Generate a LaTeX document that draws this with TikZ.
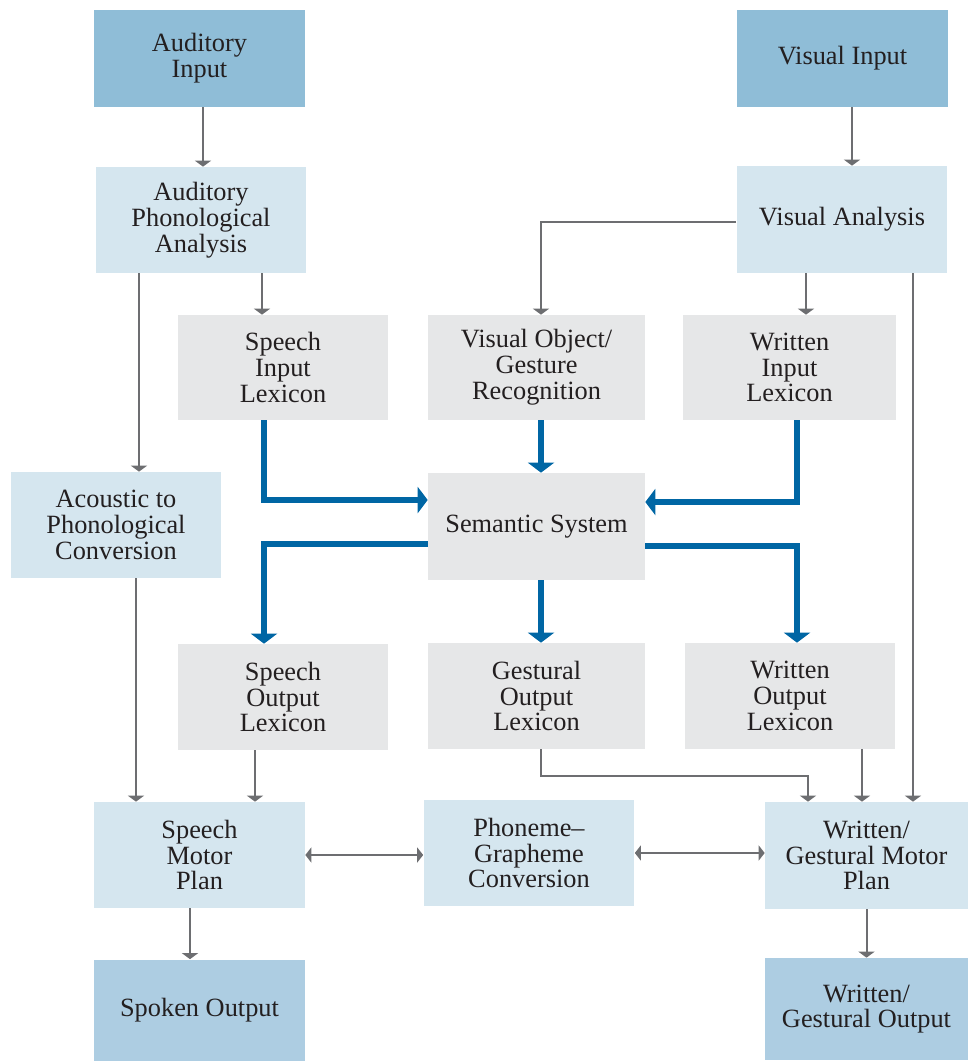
\documentclass[tikz,border=0pt]{standalone}
\usepackage{fontspec}
\setmainfont{Liberation Serif}
\usetikzlibrary{arrows.meta}
\definecolor{inblue}{HTML}{8FBDD7}
\definecolor{outblue}{HTML}{ADCDE2}
\definecolor{ltblue}{HTML}{D5E6EF}
\definecolor{ltgray}{HTML}{E6E7E8}
\definecolor{semblue}{HTML}{0066A4}
\definecolor{lngray}{HTML}{6D6E71}
\definecolor{txtgray}{HTML}{231F20}

\begin{document}
\begin{tikzpicture}[x=0.02cm,y=-0.02cm,
  box/.style={inner sep=0pt, minimum width=4.22cm, minimum height=2.12cm,
    align=center, text=txtgray, font=\fontsize{15}{14.7}\selectfont},
  inbox/.style={box, fill=inblue, minimum height=1.94cm},
  outbox/.style={box, fill=outblue, minimum height=2.02cm},
  ltbox/.style={box, fill=ltblue},
  gbox/.style={box, fill=ltgray, minimum height=2.1cm},
  garrow/.style={draw=lngray, line width=0.04cm, -{Triangle[width=0.32cm,length=0.12cm]}},
  gboth/.style={draw=lngray, line width=0.04cm,
    {Triangle[width=0.3cm,length=0.12cm]}-{Triangle[width=0.3cm,length=0.12cm]}},
  barrow/.style={draw=semblue, line width=0.12cm, -{Triangle[width=0.52cm,length=0.2cm]}}]
\useasboundingbox (0,0) rectangle (968,1061);
% inputs
\node[inbox] (audin) at (199.5,58.5) {Auditory\\Input};
\node[inbox] (visin) at (842.5,58.5) {Visual Input};
% analysis
\node[ltbox] (apa) at (201,220) {Auditory\\Phonological\\Analysis};
\node[ltbox, minimum height=2.14cm] (vana) at (842,219.5) {Visual Analysis};
% input lexicons
\node[gbox] (sil) at (283,367.5) {Speech\\Input\\Lexicon};
\node[gbox, minimum width=4.34cm] (vog) at (536.5,367.5) {Visual Object/\\Gesture\\Recognition};
\node[gbox, minimum width=4.26cm] (wil) at (789.5,367.5) {Written\\Input\\Lexicon};
\node[ltbox] (acph) at (116,525) {Acoustic to\\Phonological\\Conversion};
\node[gbox, minimum width=4.34cm, minimum height=2.14cm] (sem) at (536.5,526.5) {Semantic System};
% output lexicons
\node[gbox, minimum height=2.12cm] (sol) at (283,697) {Speech\\Output\\Lexicon};
\node[gbox, minimum width=4.34cm, minimum height=2.12cm] (gol) at (536.5,696) {Gestural\\Output\\Lexicon};
\node[gbox, minimum height=2.12cm] (wol) at (790,696) {Written\\Output\\Lexicon};
% motor plans
\node[ltbox] (smp) at (199.5,855) {Speech\\Motor\\Plan};
\node[ltbox] (pgc) at (529,853) {Phoneme–\\Grapheme\\Conversion};
\node[ltbox, minimum width=4.06cm, minimum height=2.14cm] (wgmp) at (866.5,855.5) {Written/\\Gestural Motor\\Plan};
% outputs
\node[outbox] (spout) at (199.5,1010) {Spoken Output};
\node[outbox, minimum width=4.06cm, minimum height=2.04cm] (wgout) at (866.5,1009) {Written/\\Gestural Output};

% gray connectors
\draw[garrow] ([xshift=0.07cm]audin.south) -- ([xshift=0.07cm]audin.south |- apa.north);
\draw[garrow] ([xshift=0.19cm]visin.south) -- ([xshift=0.19cm]visin.south |- vana.north);
\draw[garrow] ([xshift=1.22cm]apa.south) -- ([xshift=1.22cm]apa.south |- sil.north);
\draw[garrow] ([xshift=-1.24cm]apa.south) -- ([xshift=-1.24cm]apa.south |- acph.north);
\draw[garrow] ([yshift=-0.05cm]vana.west) -| ([xshift=0.09cm]vog.north);
\draw[garrow] ([xshift=0.33cm]wil.north |- vana.south) -- ([xshift=0.33cm]wil.north);
\draw[garrow] ([xshift=1.42cm]vana.south) -- ([xshift=1.42cm]vana.south |- wgmp.north);
\draw[garrow] ([xshift=0.4cm]acph.south) -- ([xshift=0.4cm]acph.south |- smp.north);
\draw[garrow] ([xshift=-0.56cm]sol.south) -- ([xshift=-0.56cm]sol.south |- smp.north);
\draw[garrow] ([xshift=0.09cm]gol.south) -- ++(0,27) -| ([xshift=-1.17cm]wgmp.north);
\draw[garrow] ([xshift=1.44cm]wol.south) -- ([xshift=1.44cm]wol.south |- wgmp.north);
\draw[gboth] (smp.east) -- (smp.east -| pgc.west);
\draw[gboth] (pgc.east) -- (pgc.east -| wgmp.west);
\draw[garrow] ([xshift=-0.19cm]smp.south) -- ([xshift=-0.19cm]smp.south |- spout.north);
\draw[garrow] (wgmp.south) -- (wgout.north);

% semantic connectors
\draw[barrow] ([xshift=-0.38cm]sil.south) |- ([yshift=0.53cm]sem.west);
\draw[barrow] ([xshift=0.09cm]vog.south) -- ([xshift=0.09cm]vog.south |- sem.north);
\draw[barrow] ([xshift=0.15cm]wil.south) |- ([yshift=0.49cm]sem.east);
\draw[barrow] ([yshift=-0.35cm]sem.west) -| ([xshift=-0.38cm]sol.north);
\draw[barrow] ([xshift=0.09cm]sem.south) -- ([xshift=0.09cm]sem.south |- gol.north);
\draw[barrow] ([yshift=-0.39cm]sem.east) -| ([xshift=0.14cm]wol.north);
\end{tikzpicture}
\end{document}
